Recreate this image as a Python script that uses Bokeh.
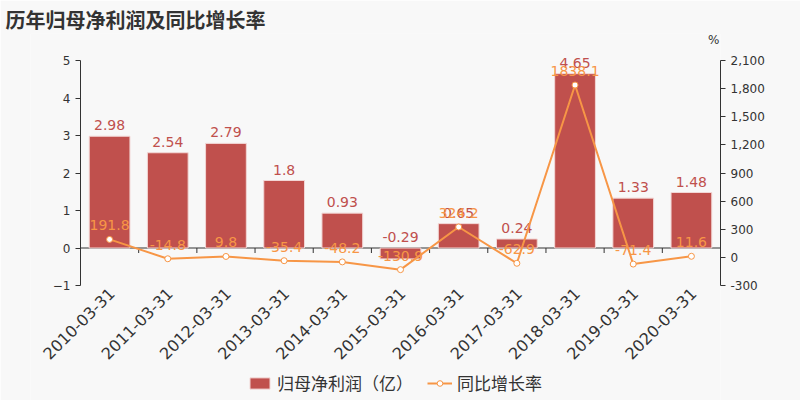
import math
from bokeh.plotting import figure
from bokeh.models import (ColumnDataSource, LinearAxis, Range1d, FixedTicker,
                          NumeralTickFormatter, Legend, LegendItem)
from bokeh.embed import file_html
from bokeh.resources import INLINE

# 数据
dates = ['2010-03-31', '2011-03-31', '2012-03-31', '2013-03-31', '2014-03-31', '2015-03-31',
         '2016-03-31', '2017-03-31', '2018-03-31', '2019-03-31', '2020-03-31']
profit = [2.98, 2.54, 2.79, 1.8, 0.93, -0.29, 0.65, 0.24, 4.65, 1.33, 1.48]
growth = [191.8, -14.8, 9.8, -35.4, -48.2, -130.9, 324.2, -62.9, 1838.1, -71.4, 11.6]
left_ticks = [-1, 0, 1, 2, 3, 4, 5]
right_ticks = [-300, 0, 300, 600, 900, 1200, 1500, 1800, 2100]

BAR = '#c0504d'
LINE = '#f79646'
BG = '#f8f8f8'
TXT = '#333333'

# 布局（像素）：坐标区 80..720 x 60..285；绘图区放大到 30..720 x 33..400，
# 日期标签、单位和图例画在坐标区外但仍在绘图区内，避免被裁掉
W, H = 800, 400
FRAME_L, FRAME_T = 30, 33
AX_L, AX_R, AX_T, AX_B = 80, 720, 60, 285
n = len(dates)
ppx = (AX_R - AX_L) / n
x_start = -0.5 - (AX_L - FRAME_L) / ppx
lo, hi = left_ticks[0], left_ticks[-1]
rlo, rhi = right_ticks[0], right_ticks[-1]
below = (H - AX_B) / (AX_B - AX_T)
above = (AX_T - FRAME_T) / (AX_B - AX_T)

idx = list(range(n))
source = ColumnDataSource(dict(
    x=idx, profit=profit, growth=growth,
    profit_label=[str(v) for v in profit],
    profit_top=[max(v, 0) for v in profit],
    growth_label=[str(v) for v in growth],
    date=dates, date_y=[lo] * n,
))
bounds = [i + 0.5 for i in idx[:-1]]

p = figure(width=W, height=H, output_backend="svg", toolbar_location=None,
           x_range=Range1d(x_start, n - 0.5),
           y_range=Range1d(lo - (hi - lo) * below, hi + (hi - lo) * above),
           x_axis_location=None,
           min_border_left=FRAME_L, min_border_right=W - AX_R, min_border_top=FRAME_T,
           min_border_bottom=0,
           background_fill_color=BG, border_fill_color=BG, outline_line_color=None)
p.extra_y_ranges = {'growth': Range1d(rlo - (rhi - rlo) * below, rhi + (rhi - rlo) * above)}
p.grid.visible = False

# 标题
p.title.text = '历年归母净利润及同比增长率'
p.title.text_font = 'Noto Sans CJK SC'
p.title.text_font_size = '20px'
p.title.text_font_style = 'bold'
p.title.text_color = TXT
p.title.align = 'left'
p.title.offset = -(FRAME_L - 5)
p.title.standoff = 0

# 右轴单位
p.text(x=[n - 0.5], y=[hi], text=['%'], text_align='right', text_baseline='middle',
       x_offset=-1, y_offset=-21, text_color=TXT, text_font_size='12px',
       text_font={'value': 'DejaVu Sans'})

# 零线及刻度
p.segment(x0=[-0.5], y0=[0], x1=[n - 0.5], y1=[0], line_color=TXT, line_width=1)
p.ray(x=bounds, y=[0] * len(bounds), length=5, length_units='screen', angle=-math.pi / 2,
      line_color=TXT, line_width=1)

# 柱状图
bars = p.vbar(x='x', top='profit', width=0.7, source=source, fill_color=BAR,
              line_color='#f2d6d5', line_width=1)
p.text(x='x', y='profit_top', text='profit_label', source=source, text_align='center',
       text_baseline='bottom', y_offset=-6, text_color=BAR, text_font_size='14px',
       text_font={'value': 'DejaVu Sans'})

# 折线
line = p.line(x='x', y='growth', source=source, y_range_name='growth', line_color=LINE, line_width=2)
pts = p.scatter(x='x', y='growth', source=source, y_range_name='growth', size=6,
                fill_color='white', line_color=LINE, line_width=1)
p.text(x='x', y='growth', text='growth_label', source=source, y_range_name='growth',
       text_align='center', text_baseline='bottom', y_offset=-9, text_color=LINE,
       text_font_size='14px', text_font={'value': 'DejaVu Sans'})

# 日期标签
p.text(x='x', y='date_y', text='date', source=source, angle=math.pi / 4,
       text_align='right', text_baseline='middle', x_offset=2, y_offset=5,
       text_color=TXT, text_font_size='16px', text_font={'value': 'DejaVu Sans'})

# 左轴
p.yaxis.ticker = FixedTicker(ticks=left_ticks)
p.yaxis.fixed_location = -0.5
p.yaxis.bounds = (lo, hi)
p.yaxis.minor_tick_line_color = None
p.yaxis.major_tick_in = 0
p.yaxis.major_tick_out = 5
p.yaxis.axis_line_color = TXT
p.yaxis.major_tick_line_color = TXT
p.yaxis.major_label_text_color = TXT
p.yaxis.major_label_text_font = 'DejaVu Sans'
p.yaxis.major_label_text_font_size = '12px'

# 右轴
ry = LinearAxis(y_range_name='growth', ticker=FixedTicker(ticks=right_ticks),
                formatter=NumeralTickFormatter(format='0,0'), bounds=(rlo, rhi))
ry.minor_tick_line_color = None
ry.major_tick_in = 0
ry.major_tick_out = 5
ry.axis_line_color = TXT
ry.major_tick_line_color = TXT
ry.major_label_text_color = TXT
ry.major_label_text_font = 'DejaVu Sans'
ry.major_label_text_font_size = '12px'
p.add_layout(ry, 'right')

# 图例
legend = Legend(items=[LegendItem(label='归母净利润（亿）', renderers=[bars]),
                       LegendItem(label='同比增长率', renderers=[line, pts])],
                orientation='horizontal', location=(247 - FRAME_L, 5), padding=0, margin=0,
                background_fill_alpha=0, border_line_color=None,
                label_text_font='Noto Sans CJK SC', label_text_font_size='17px',
                label_text_color=TXT, glyph_width=25, glyph_height=14, spacing=14)
p.add_layout(legend, 'center')

open("out.html", "w").write(file_html(p, INLINE))
